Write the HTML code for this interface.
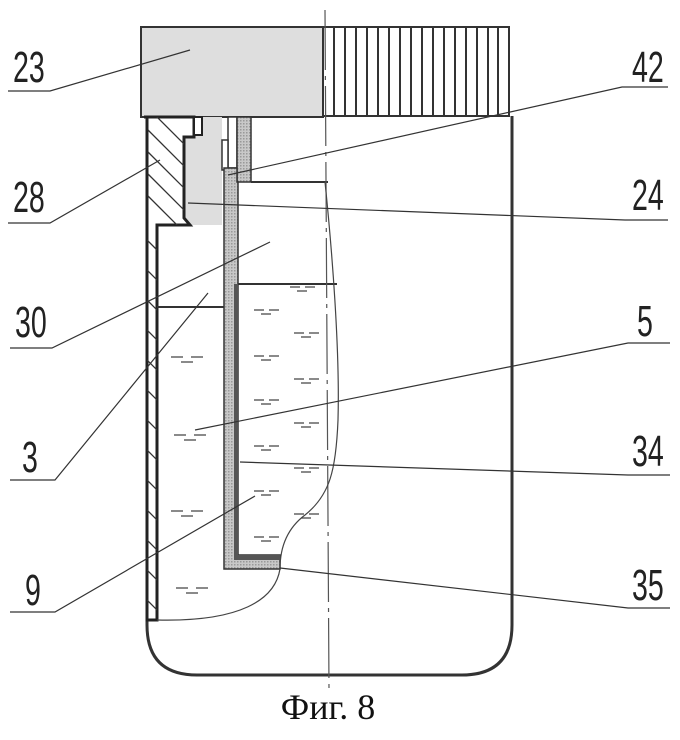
<!DOCTYPE html>
<html><head><meta charset="utf-8"><style>
html,body{margin:0;padding:0;background:#fff;}
svg{display:block}
.n{font-family:"Liberation Sans",sans-serif;font-size:44px;fill:#222;}
</style></head><body>
<svg width="680" height="740" viewBox="0 0 680 740" xmlns="http://www.w3.org/2000/svg">
<defs>
<pattern id="d" width="3" height="3" patternUnits="userSpaceOnUse"><rect width="3" height="3" fill="#c8c8c8"/><rect width="1.5" height="1.5" fill="#999"/></pattern>
</defs>
<rect x="141" y="27" width="182" height="90" fill="#dedede" stroke="#333" stroke-width="2"/>
<rect x="323" y="27" width="186" height="89" fill="#fff" stroke="#333" stroke-width="2"/>
<g stroke="#333" stroke-width="2">
<line x1="334" y1="27" x2="334" y2="116"/><line x1="345" y1="27" x2="345" y2="116"/><line x1="356" y1="27" x2="356" y2="116"/><line x1="367" y1="27" x2="367" y2="116"/><line x1="378" y1="27" x2="378" y2="116"/><line x1="389" y1="27" x2="389" y2="116"/><line x1="400" y1="27" x2="400" y2="116"/><line x1="411" y1="27" x2="411" y2="116"/><line x1="422" y1="27" x2="422" y2="116"/><line x1="433" y1="27" x2="433" y2="116"/><line x1="444" y1="27" x2="444" y2="116"/><line x1="455" y1="27" x2="455" y2="116"/><line x1="466" y1="27" x2="466" y2="116"/><line x1="477" y1="27" x2="477" y2="116"/><line x1="488" y1="27" x2="488" y2="116"/><line x1="498" y1="27" x2="498" y2="116"/>
</g>
<path d="M184 117 L222 117 L222 225 L188 225 L184 218 Z" fill="#dedede"/>
<path d="M147 117 L147 625 Q147 675 197 675 L462 675 Q512 675 512 625 L512 116" fill="none" stroke="#333" stroke-width="3"/>
<path d="M144 117 L194 117 L194 137 L184 137 L184 218 L190 225 L157 225 L157 620 L147 620 L147 117 Z" fill="#fff" stroke="#222" stroke-width="3"/>
<clipPath id="c"><path d="M147 117 L184 117 L184 225 L157 225 L157 620 L147 620 Z"/></clipPath>
<g stroke="#333" stroke-width="1.3" clip-path="url(#c)">
<line x1="150" y1="110" x2="190" y2="150"/><line x1="148" y1="130" x2="190" y2="172"/><line x1="148" y1="152" x2="190" y2="194"/><line x1="148" y1="174" x2="190" y2="216"/><line x1="148" y1="196" x2="190" y2="238"/>
<line x1="147" y1="240" x2="158" y2="251"/><line x1="147" y1="270" x2="158" y2="281"/><line x1="147" y1="300" x2="158" y2="311"/><line x1="147" y1="330" x2="158" y2="341"/><line x1="147" y1="360" x2="158" y2="371"/><line x1="147" y1="390" x2="158" y2="401"/><line x1="147" y1="420" x2="158" y2="431"/><line x1="147" y1="450" x2="158" y2="461"/><line x1="147" y1="480" x2="158" y2="491"/><line x1="147" y1="510" x2="158" y2="521"/><line x1="147" y1="540" x2="158" y2="551"/><line x1="147" y1="570" x2="158" y2="581"/><line x1="147" y1="600" x2="158" y2="611"/>
</g>
<rect x="194" y="117" width="8" height="18" fill="#fff" stroke="#222" stroke-width="2"/>
<path d="M228 117 L237 117 L237 168 L228 168 Z" fill="#fff" stroke="#333" stroke-width="1.5"/>
<rect x="237" y="117" width="14" height="65" fill="url(#d)" stroke="#333" stroke-width="1.5"/>
<rect x="222" y="140" width="6" height="30" fill="#fff" stroke="#333" stroke-width="1.5"/>
<path d="M224 168 L237 168 L237 182 L238 182 L238 555 L280 555 L280 569 L224 569 Z" fill="url(#d)" stroke="#333" stroke-width="1.5"/>
<path d="M234 284 L238 284 L238 555 L280 555 L280 560 L234 560 Z" fill="#555"/>
<line x1="251" y1="182" x2="328" y2="182" stroke="#333" stroke-width="2"/>
<line x1="238" y1="284" x2="337" y2="284" stroke="#333" stroke-width="2"/>
<line x1="157" y1="307" x2="224" y2="307" stroke="#333" stroke-width="2"/>
<line x1="325" y1="10" x2="329" y2="690" stroke="#555" stroke-width="1.2" stroke-dasharray="60 6 4 6"/>
<path d="M325 182 C332 250 340 350 338 420 C336 470 330 495 305 515 C285 530 280 550 280 569 C275 600 240 622 157 620" fill="none" stroke="#444" stroke-width="1.2"/>
<g stroke="#444" stroke-width="1.2" fill="none">
<path d="M290 287h10m5 0h10m-18 4h10"/>
<path d="M254 310h10m5 0h10m-18 4h10"/><path d="M294 333h10m5 0h10m-18 4h10"/>
<path d="M254 356h10m5 0h10m-18 4h10"/><path d="M294 379h10m5 0h10m-18 4h10"/>
<path d="M254 400h10m5 0h10m-18 4h10"/><path d="M294 423h10m5 0h10m-18 4h10"/>
<path d="M254 446h10m5 0h10m-18 4h10"/><path d="M294 468h10m5 0h10m-18 4h10"/>
<path d="M254 491h10m5 0h10m-18 4h10"/><path d="M294 514h10m5 0h10m-18 4h10"/>
<path d="M254 537h10m5 0h10m-18 4h10"/>
<path d="M171 357h12m8 0h12m-22 5h12"/><path d="M174 435h12m8 0h12m-22 5h12"/>
<path d="M171 511h12m8 0h12m-22 5h12"/><path d="M176 588h12m8 0h12m-22 5h12"/>
</g>
<g stroke="#333" stroke-width="1.2" fill="none">
<path d="M8 91 L50 91 L190 50"/>
<path d="M8 223 L50 223 L160 160"/>
<path d="M10 348 L52 348 L270 242"/>
<path d="M10 480 L55 480 L208 293"/>
<path d="M10 612 L55 612 L255 496"/>
<path d="M668 87 L622 87 L228 175"/>
<path d="M668 220 L625 220 L188 203"/>
<path d="M670 343 L628 343 L195 430"/>
<path d="M670 475 L628 475 L240 462"/>
<path d="M670 608 L628 608 L280 568"/>
</g>
<g class="n">
<text x="13" y="82" transform="translate(13 0) scale(0.65 1) translate(-13 0)">23</text>
<text x="13" y="212" transform="translate(13 0) scale(0.65 1) translate(-13 0)">28</text>
<text x="15" y="337" transform="translate(15 0) scale(0.65 1) translate(-15 0)">30</text>
<text x="22" y="472" transform="translate(22 0) scale(0.65 1) translate(-22 0)">3</text>
<text x="25" y="605" transform="translate(25 0) scale(0.65 1) translate(-25 0)">9</text>
<text x="632" y="82" transform="translate(632 0) scale(0.65 1) translate(-632 0)">42</text>
<text x="632" y="210" transform="translate(632 0) scale(0.65 1) translate(-632 0)">24</text>
<text x="637" y="336" transform="translate(637 0) scale(0.65 1) translate(-637 0)">5</text>
<text x="632" y="466" transform="translate(632 0) scale(0.65 1) translate(-632 0)">34</text>
<text x="632" y="600" transform="translate(632 0) scale(0.65 1) translate(-632 0)">35</text>
</g>
<text x="328" y="719" text-anchor="middle" font-family="Liberation Serif,serif" font-size="36" fill="#111">Фиг. 8</text>
</svg>
</body></html>
